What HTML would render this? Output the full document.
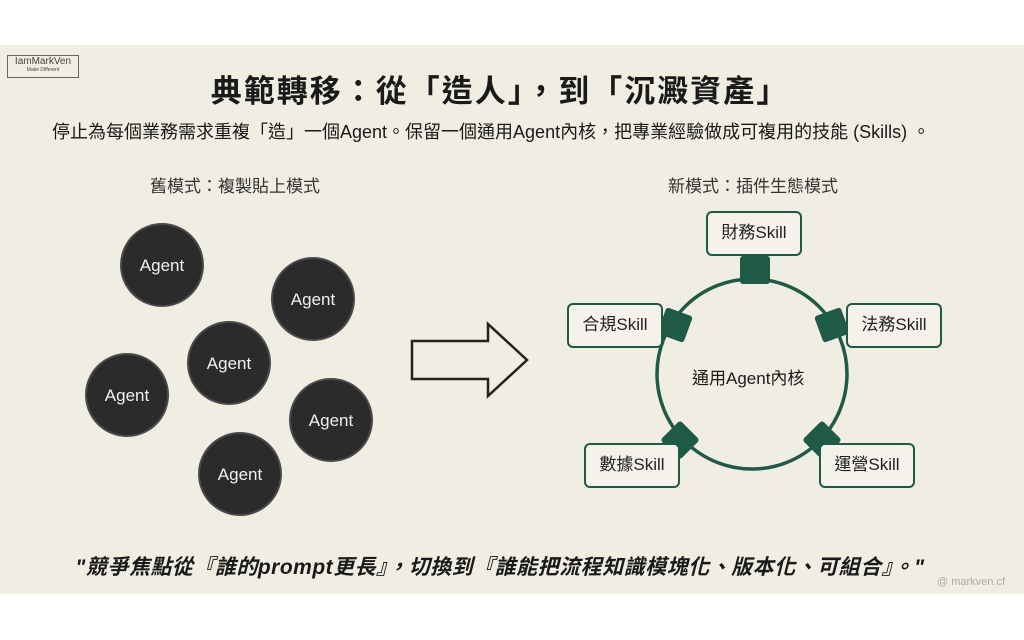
<!DOCTYPE html>
<html><head><meta charset="utf-8"><style>
body{margin:0;width:1024px;height:640px;background:#fff;position:relative;overflow:hidden;font-family:"Liberation Sans","Noto Sans CJK TC",sans-serif;color:#1a1a1a}
.band{position:absolute;left:0;top:45px;width:1024px;height:549px;background:#f0ede3}
.t{position:absolute;white-space:nowrap}
.logo{position:absolute;left:7px;top:55px;width:70px;height:21px;border:1px solid #666;font-size:10px;text-align:center;line-height:11px;color:#444}
.logo small{display:block;font-size:5px;line-height:6px}
.sk{position:absolute;width:96px;height:45px;border:2.5px solid #1f5a46;border-radius:6px;background:#f4f2ea;box-sizing:border-box;font-size:17px;text-align:center;line-height:40px;color:#222}
</style></head><body>
<div class="band"></div>
<div class="logo">IamMarkVen<small>Make Different</small></div>
<div class="t" style="left:0;width:1000px;text-align:center;top:66px;font-size:31px;font-weight:bold;letter-spacing:2px">典範轉移：從「造人」，到「沉澱資產」</div>
<div class="t" style="left:52px;top:118px;font-size:18px">停止為每個業務需求重複「造」一個Agent。保留一個通用Agent內核，把專業經驗做成可複用的技能 (Skills) 。</div>
<div class="t" style="left:150px;top:172px;font-size:17px;color:#333">舊模式：複製貼上模式</div>
<div class="t" style="left:668px;top:172px;font-size:17px;color:#333">新模式：插件生態模式</div>
<svg width="1024" height="640" style="position:absolute;left:0;top:0">
<g fill="#2b2b2b" stroke="#4a4a4a" stroke-width="2">
<circle cx="162" cy="265" r="41"/><circle cx="313" cy="299" r="41"/><circle cx="229" cy="363" r="41"/>
<circle cx="127" cy="395" r="41"/><circle cx="331" cy="420" r="41"/><circle cx="240" cy="474" r="41"/>
</g>
<g fill="#f0f0f0" font-size="17" text-anchor="middle" font-family="Liberation Sans,sans-serif">
<text x="162" y="271">Agent</text><text x="313" y="305">Agent</text><text x="229" y="369">Agent</text>
<text x="127" y="401">Agent</text><text x="331" y="426">Agent</text><text x="240" y="480">Agent</text>
</g>
<polygon points="412,341 488,341 488,324 527,360 488,396 488,379 412,379" fill="none" stroke="#222" stroke-width="2.5"/>
<circle cx="752" cy="374" r="95" fill="none" stroke="#1f5a46" stroke-width="3.5"/>
<g fill="#1f5a46">
<rect x="740" y="256" width="30" height="28" rx="3"/>
<rect x="-14" y="-14" width="28" height="28" rx="3" transform="translate(675,325) rotate(20)"/>
<rect x="-14" y="-14" width="28" height="28" rx="3" transform="translate(832,325) rotate(-20)"/>
<rect x="-14" y="-14" width="28" height="28" rx="3" transform="translate(680,440) rotate(45)"/>
<rect x="-14" y="-14" width="28" height="28" rx="3" transform="translate(822,440) rotate(45)"/>
</g>
</svg>
<div class="sk" style="left:706px;top:211px">財務Skill</div>
<div class="sk" style="left:567px;top:303px">合規Skill</div>
<div class="sk" style="left:846px;top:303px">法務Skill</div>
<div class="sk" style="left:584px;top:443px">數據Skill</div>
<div class="sk" style="left:819px;top:443px">運營Skill</div>
<div class="t" style="left:692px;top:364px;font-size:17px">通用Agent內核</div>
<div class="t" style="left:0;width:1000px;text-align:center;top:551px;font-size:21px;font-weight:bold;font-style:italic;letter-spacing:0.5px">"競爭焦點從『誰的prompt更長』，切換到『誰能把流程知識模塊化、版本化、可組合』。"</div>
<div class="t" style="left:937px;top:576px;font-size:11px;color:#aaa">@ markven.cf</div>
</body></html>
